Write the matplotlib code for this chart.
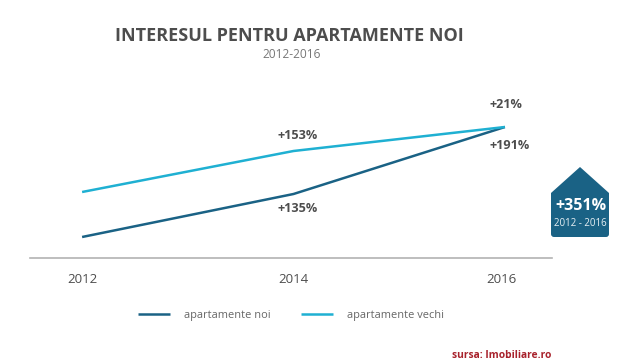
import matplotlib
matplotlib.use("Agg")
import matplotlib.pyplot as plt
from matplotlib.patches import PathPatch
from matplotlib.path import Path
from matplotlib.transforms import ScaledTranslation

plt.rcParams['font.family'] = ['Open Sans', 'DejaVu Sans']

years = [2012, 2014, 2016]
tick_labels = ['2012', '2014', '2016']
noi = [21, 64, 131]
vechi = [66, 107, 131]
noi_labels = ['+135%', '+191%']
vechi_labels = ['+153%', '+21%']
NOI_C = '#1a6285'
VECHI_C = '#1fb0d2'
TXT = '#4d4d4d'
W, H = 640, 360

fig = plt.figure(figsize=(6.4, 3.6), dpi=100, facecolor='white')
ax = fig.add_axes([30/W, 1-258/H, 522/W, 178/H])
ax.set_xlim(2012-52/105.5, 2016+47/105.5)
ax.set_ylim(0, 178)
ax.patch.set_alpha(0)
l1, = ax.plot(years, noi, color=NOI_C, lw=1.8, solid_capstyle='butt')
l2, = ax.plot(years, vechi, color=VECHI_C, lw=1.8, solid_capstyle='butt')
for s in ['top', 'left', 'right']:
    ax.spines[s].set_visible(False)
ax.spines['bottom'].set_color('#b3b3b3')
ax.spines['bottom'].set_linewidth(1.2)
ax.set_yticks([])
ax.set_xticks(years)
ax.set_xticklabels(tick_labels, fontsize=9.5, color=TXT)
ax.tick_params(axis='x', length=0, pad=11)
lab = ax.get_xticklabels()[2]
lab.set_transform(lab.get_transform() + ScaledTranslation(-3/100, 0, fig.dpi_scale_trans))

kw = dict(fontsize=9.1, fontweight='bold', color=TXT, ha='center', va='center')
ax.text(2014+4/105.5, 50, noi_labels[0], **kw)
ax.text(2016+5/105.5, 112.5, noi_labels[1], **kw)
ax.text(2014+4/105.5, 122.5, vechi_labels[0], **kw)
ax.text(2016+1/105.5, 154, vechi_labels[1], **kw)

fig.text(289/W, 1-36/H, 'INTERESUL PENTRU APARTAMENTE NOI', fontsize=12.95, fontweight='bold',
         color=TXT, ha='center', va='center')
fig.text(291.5/W, 1-54.5/H, '2012-2016', fontsize=8.6, color='#777777', ha='center', va='center')

fig.legend([l1, l2], ['apartamente noi', 'apartamente vechi'], loc='center', ncol=2,
           bbox_to_anchor=(291/W, 1-315.5/H), frameon=False, fontsize=7.9, labelcolor='#666666',
           handlelength=2.9, handletextpad=1.3, columnspacing=2.8)

fig.text(502/W, 1-356/H, 'sursa: Imobiliare.ro', fontsize=7.4, fontweight='bold', color='#a8222c',
         ha='center', va='center')

# badge
L, R, TOP, SH, BOT, MID, r = 551, 609, 167, 193, 237, 580, 3
verts = [(MID, TOP), (R, SH), (R, BOT-r), (R, BOT), (R-r, BOT), (L+r, BOT), (L, BOT), (L, BOT-r), (L, SH), (MID, TOP)]
codes = [Path.MOVETO, Path.LINETO, Path.LINETO, Path.CURVE3, Path.CURVE3, Path.LINETO,
         Path.CURVE3, Path.CURVE3, Path.LINETO, Path.CLOSEPOLY]
fig.add_artist(PathPatch(Path([(x/W, 1-y/H) for x, y in verts], codes),
                         transform=fig.transFigure, fc=NOI_C, ec='none'))
fig.text(580.5/W, 1-206.5/H, '+351%', fontsize=11.5, fontweight='bold', color='white', ha='center', va='center')
fig.text(580.5/W, 1-223/H, '2012 - 2016', fontsize=7, color='#e8f0f4', ha='center', va='center')

fig.savefig('out.png', dpi=100)
